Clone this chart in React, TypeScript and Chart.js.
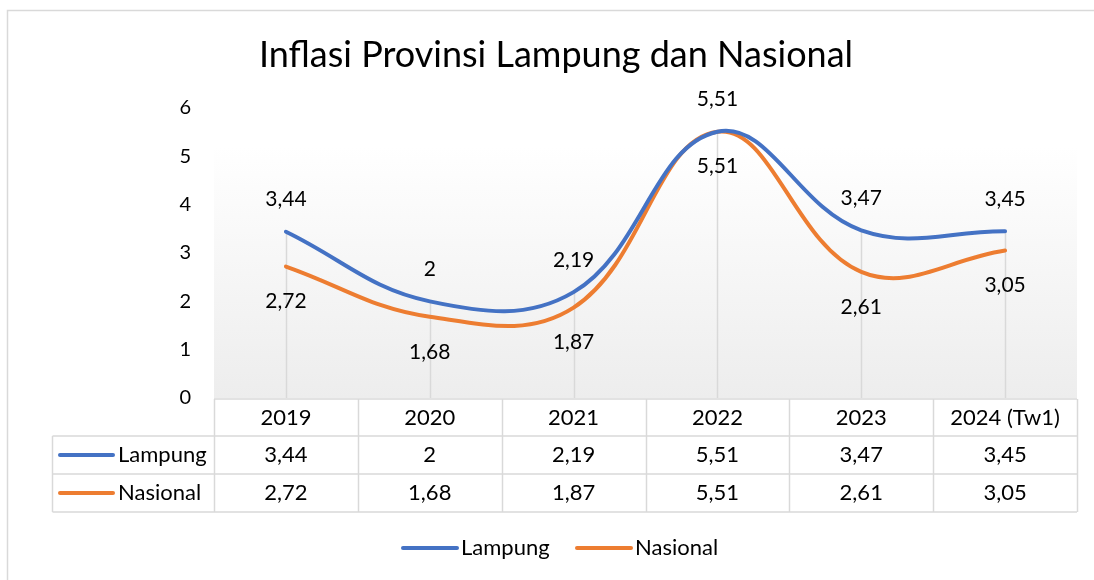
import React, { useEffect, useRef } from "react";
import { Chart, registerables } from "chart.js";

Chart.register(...registerables);

const chartTitle = "Inflasi Provinsi Lampung dan Nasional";
const categories = ["2019", "2020", "2021", "2022", "2023", "2024 (Tw1)"];
const lampung = [3.44, 2, 2.19, 5.51, 3.47, 3.45];
const nasional = [2.72, 1.68, 1.87, 5.51, 2.61, 3.05];
const seriesNames = ["Lampung", "Nasional"];
const seriesColors = ["#4472C4", "#ED7D31"];
const yMin = 0;
const yMax = 6;
const yStep = 1;

const FONT = "Lato, 'Noto Sans', sans-serif";
const GRID = "#d9d9d9";
const TEXT = "#000000";

const fmt = (v: number) => String(v).replace(".", ",");

const excelPlugin = {
  id: "excelLook",
  beforeDraw(chart: any) {
    const { ctx, chartArea: a } = chart;
    ctx.save();
    ctx.fillStyle = "#ffffff";
    ctx.fillRect(0, 0, chart.width, chart.height);
    // outer chart border (continues past the canvas at right/bottom)
    ctx.strokeStyle = GRID;
    ctx.lineWidth = 1.5;
    ctx.strokeRect(7.5, 10.5, chart.width + 50, chart.height + 50);
    // plot-area gradient
    const gTop = a.top + 38;
    const g = ctx.createLinearGradient(0, gTop, 0, a.bottom);
    g.addColorStop(0, "#ffffff");
    g.addColorStop(1, "#ededed");
    ctx.fillStyle = g;
    ctx.fillRect(a.left, gTop, a.right - a.left, a.bottom - gTop);
    // title
    ctx.fillStyle = TEXT;
    ctx.font = `36px ${FONT}`;
    ctx.textAlign = "center";
    ctx.textBaseline = "alphabetic";
    ctx.fillText(chartTitle, 556, 67);
    ctx.restore();
  },
  beforeDatasetsDraw(chart: any) {
    const { ctx, chartArea: a } = chart;
    const metas = chart.data.datasets.map((_: any, i: number) => chart.getDatasetMeta(i));
    ctx.save();
    ctx.strokeStyle = GRID;
    ctx.lineWidth = 1.5;
    categories.forEach((_, i) => {
      const top = Math.min(...metas.map((m: any) => m.data[i].y));
      const x = Math.round(metas[0].data[i].x) + 0.5;
      ctx.beginPath();
      ctx.moveTo(x, top);
      ctx.lineTo(x, a.bottom);
      ctx.stroke();
    });
    ctx.restore();
  },
  afterDatasetsDraw(chart: any) {
    const { ctx } = chart;
    ctx.save();
    ctx.fillStyle = TEXT;
    ctx.font = `21px ${FONT}`;
    ctx.textAlign = "center";
    ctx.textBaseline = "middle";
    chart.data.datasets.forEach((ds: any, di: number) => {
      const meta = chart.getDatasetMeta(di);
      meta.data.forEach((pt: any, i: number) => {
        const off = di === 0 ? -32 : 35;
        ctx.fillText(fmt(ds.data[i]), pt.x, pt.y + off);
      });
    });
    ctx.restore();
  },
  afterDraw(chart: any) {
    const { ctx, chartArea: a } = chart;
    const xs = chart.scales.x;
    const band = (a.right - a.left) / categories.length;
    const rowTops = [a.bottom + 1, a.bottom + 38, a.bottom + 76];
    const rowBottom = a.bottom + 114;
    const leftEdge = 52.5;
    ctx.save();
    ctx.strokeStyle = GRID;
    ctx.lineWidth = 1.5;
    // horizontal lines
    ctx.beginPath();
    ctx.moveTo(a.left, rowTops[0]);
    ctx.lineTo(a.right, rowTops[0]);
    [rowTops[1], rowTops[2], rowBottom].forEach((y) => {
      ctx.moveTo(leftEdge, y);
      ctx.lineTo(a.right, y);
    });
    // vertical lines
    ctx.moveTo(leftEdge, rowTops[1]);
    ctx.lineTo(leftEdge, rowBottom);
    for (let i = 0; i <= categories.length; i++) {
      const x = Math.round(a.left + band * i) + 0.5;
      ctx.moveTo(x, rowTops[0]);
      ctx.lineTo(x, rowBottom);
    }
    ctx.stroke();

    ctx.fillStyle = TEXT;
    ctx.font = `22px ${FONT}`;
    ctx.textAlign = "center";
    ctx.textBaseline = "middle";
    categories.forEach((c, i) => {
      const x = xs.getPixelForValue(i);
      ctx.fillText(c, x, (rowTops[0] + rowTops[1]) / 2);
      ctx.fillText(fmt(lampung[i]), x, (rowTops[1] + rowTops[2]) / 2);
      ctx.fillText(fmt(nasional[i]), x, (rowTops[2] + rowBottom) / 2);
    });

    // legend keys in table
    const rowMids = [(rowTops[1] + rowTops[2]) / 2, (rowTops[2] + rowBottom) / 2];
    ctx.lineCap = "round";
    ctx.lineWidth = 4;
    seriesNames.forEach((n, i) => {
      ctx.strokeStyle = seriesColors[i];
      ctx.beginPath();
      ctx.moveTo(60, rowMids[i]);
      ctx.lineTo(113, rowMids[i]);
      ctx.stroke();
      ctx.textAlign = "left";
      ctx.fillText(n, 118, rowMids[i]);
    });

    // bottom legend
    const ly = 548;
    const starts = [403, 577];
    seriesNames.forEach((n, i) => {
      ctx.strokeStyle = seriesColors[i];
      ctx.beginPath();
      ctx.moveTo(starts[i], ly);
      ctx.lineTo(starts[i] + 54, ly);
      ctx.stroke();
      ctx.textAlign = "left";
      ctx.fillText(n, starts[i] + 58, ly);
    });
    ctx.restore();
  },
};

export default function App() {
  const ref = useRef<HTMLCanvasElement | null>(null);
  useEffect(() => {
    document.body.style.margin = "0";
    if (!ref.current) return;
    const chart = new Chart(ref.current, {
      type: "line",
      data: {
        labels: categories,
        datasets: [
          {
            label: seriesNames[0],
            data: lampung,
            borderColor: seriesColors[0],
            backgroundColor: seriesColors[0],
            borderWidth: 4,
            pointRadius: 0,
            tension: 0.4,
            borderCapStyle: "round",
          },
          {
            label: seriesNames[1],
            data: nasional,
            borderColor: seriesColors[1],
            backgroundColor: seriesColors[1],
            borderWidth: 4,
            pointRadius: 0,
            tension: 0.4,
            borderCapStyle: "round",
          },
        ],
      },
      options: {
        responsive: false,
        animation: false,
        layout: { padding: { left: 164, top: 108, right: 17, bottom: 182 } },
        plugins: {
          legend: { display: false },
          title: { display: false },
          tooltip: { enabled: false },
        },
        scales: {
          x: { display: false, offset: true },
          y: {
            min: yMin,
            max: yMax,
            ticks: {
              stepSize: yStep,
              padding: 23,
              color: TEXT,
              font: { family: FONT, size: 20 },
            },
            grid: { display: false, drawTicks: false },
            border: { display: false },
            afterFit: (s: any) => {
              s.width = 50;
            },
          },
        },
      },
      plugins: [excelPlugin],
    } as any);
    return () => chart.destroy();
  }, []);
  return (
    <div style={{ position: "absolute", left: 0, top: 0, width: 1094, height: 580 }}>
      <canvas ref={ref} width={1094} height={580} />
    </div>
  );
}
